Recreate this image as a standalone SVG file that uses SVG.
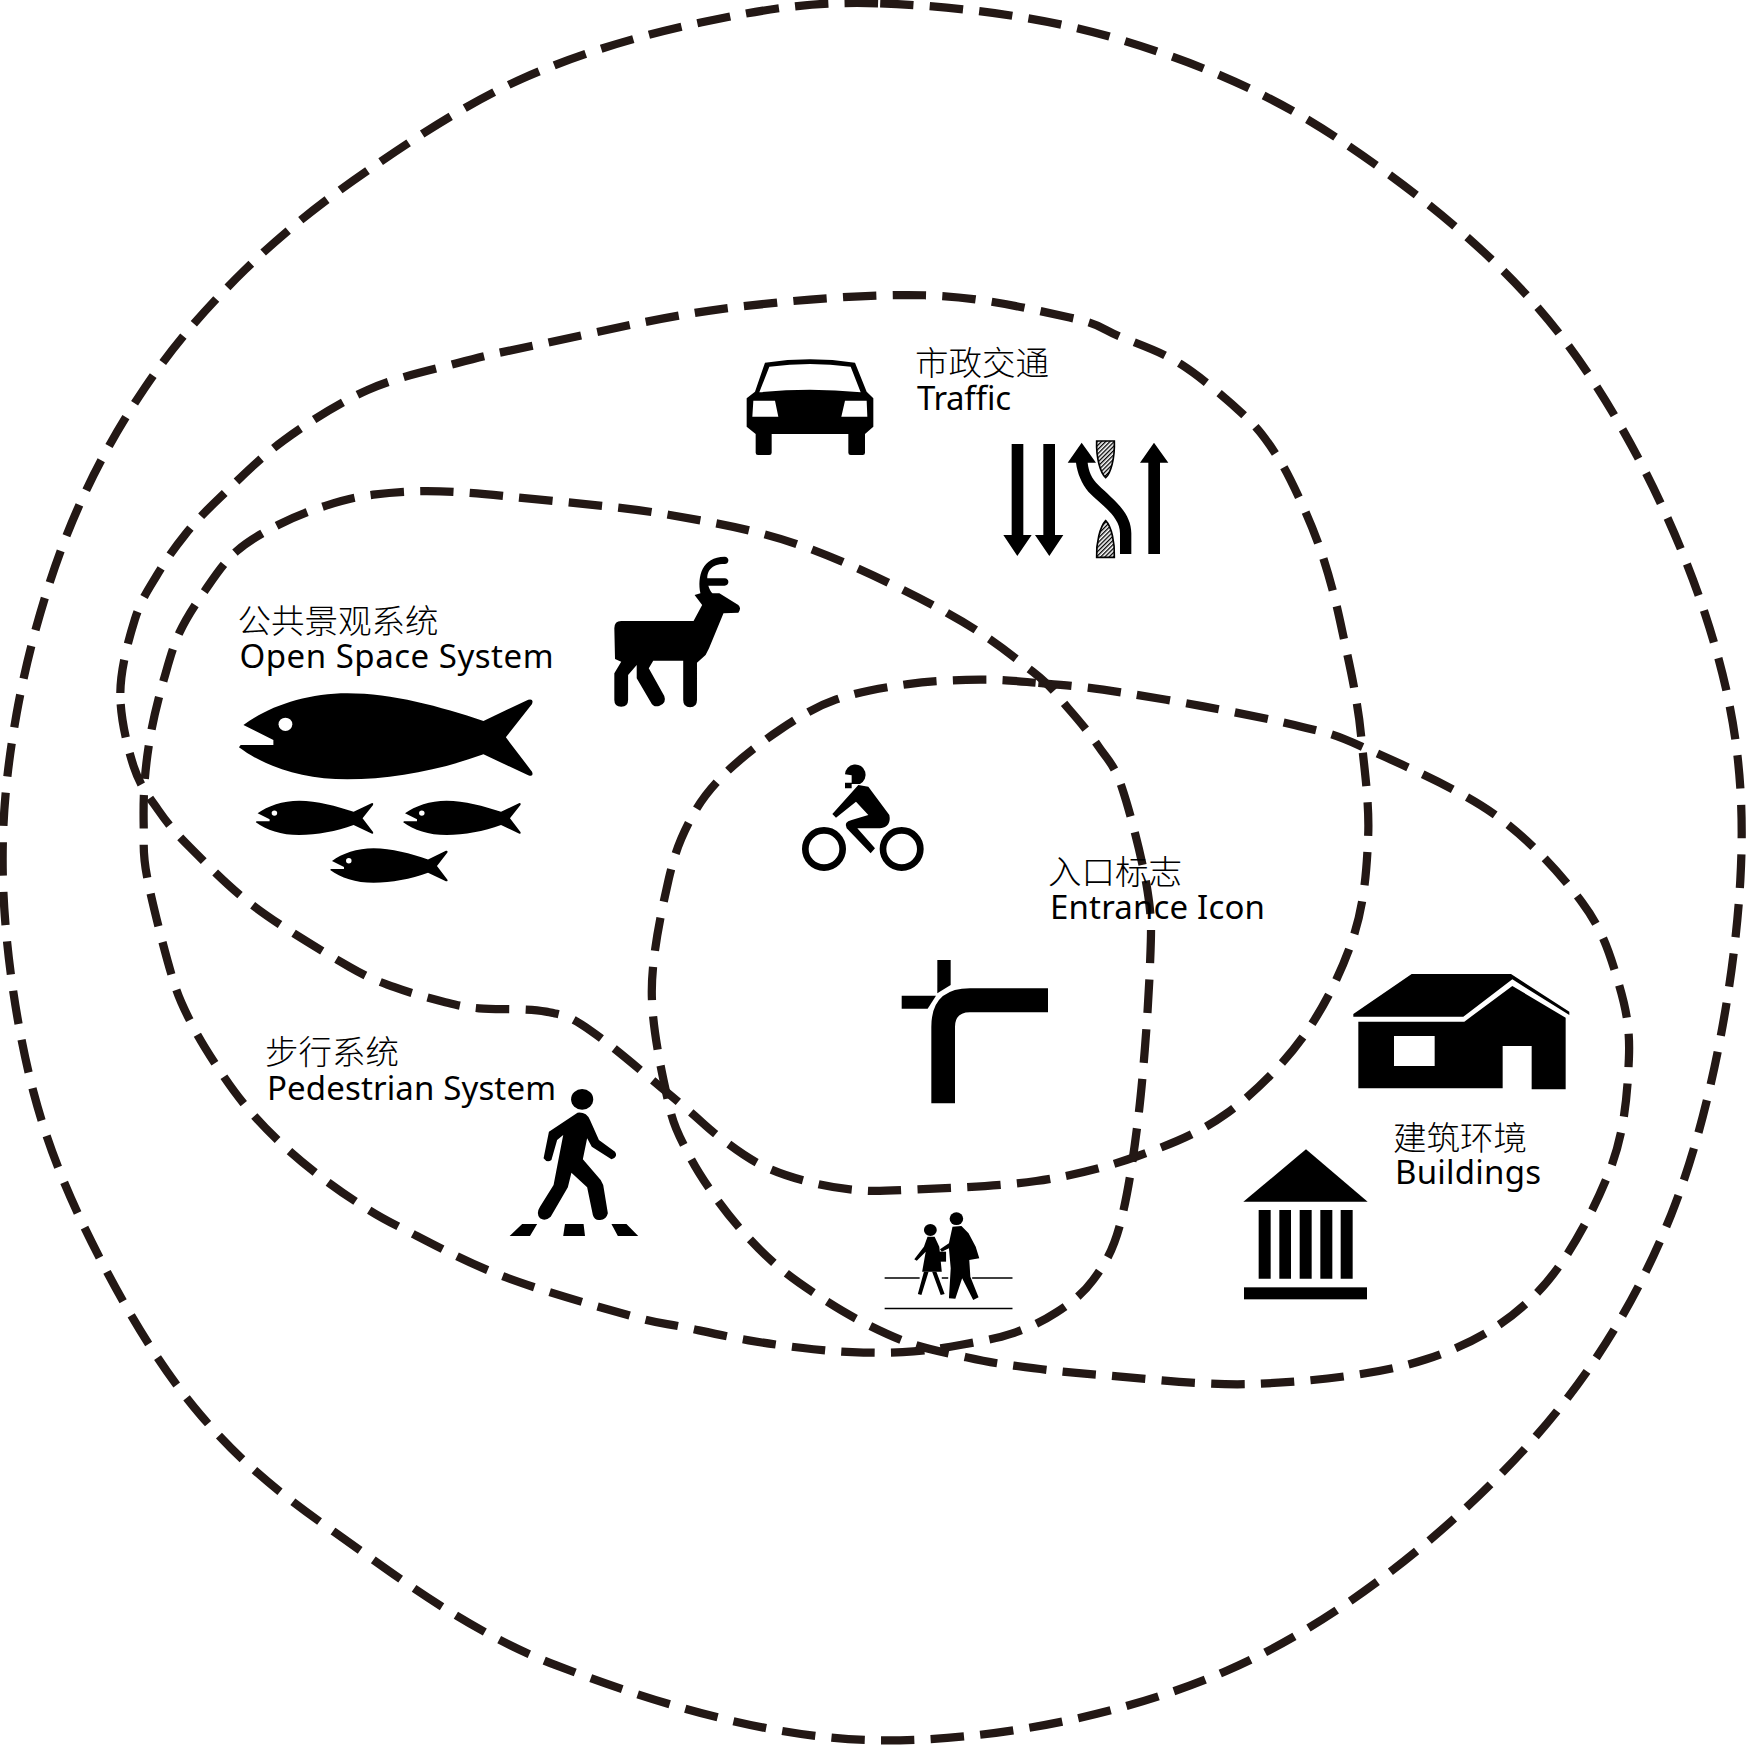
<svg xmlns="http://www.w3.org/2000/svg" width="1747" height="1747" viewBox="0 0 1747 1747">
<style>
.loop{fill:none;stroke:#231815;stroke-width:7.4;stroke-dasharray:30 14.6}
.en{font-family:"Noto Sans","Open Sans","Liberation Sans",sans-serif;font-size:33px;fill:#000}
.cn{font-family:"Noto Sans CJK SC","Noto Sans",sans-serif;font-size:33.5px;font-weight:300;fill:#000}
.ic{fill:#000}
</style>
<defs>
<pattern id="hatch" width="9" height="9" patternUnits="userSpaceOnUse" patternTransform="rotate(-45)">
<rect width="9" height="9" fill="#fff"/><rect width="9" height="4" fill="#000"/>
</pattern>
<g id="fish">
<path d="M68 555C140 500 250 460 370 460C500 460 640 500 765 543L895 479Q912 475 906 492L830 592L906 695Q912 712 895 706L765 643C640 690 500 718 370 718C240 718 130 680 55 622L60 615L155 615L155 600Z"/>
<circle cx="190" cy="553" r="20" fill="#fff"/>
</g>
</defs>
<rect width="1747" height="1747" fill="#fff"/>
<g id="connectors" transform="scale(1.11416)">
<path id="outer-boundary" class="loop" d="M790 3C851.7 5.300 931.700 13.800 1000 34S1133.300 79.700 1200 124S1345 229 1400 300S1503 468.300 1530 550S1567 700 1562 790S1535.300 1001.700 1500 1090S1416.700 1251.700 1350 1320S1193.300 1459.700 1100 1500S890 1562.800 790 1562S581.700 1526.200 500 1495S353.300 1412.500 300 1375S215 1310.800 180 1270S115 1178.300 90 1130S44.500 1035 30 980S5.500 856.700 3 800S5.500 693.300 15 640S40.800 528.700 60 480S103.300 387.700 130 348S186.700 274.500 220 242S288.300 181.700 330 153S420 92.200 470 70S576.700 31.200 630 20S728.300 0.700 790 3Z"/>
<path id="traffic-open-space-loop" class="loop" d="M108 622C108.200 600 115.500 573.700 121 556S133.500 528.700 141 516S156.700 491.500 166 480S182.200 461.200 197 447S232.800 411.200 255 395S304.200 361.500 330 350S385 332.700 410 326S440 318.200 480 310S591.700 284.500 650 277S778.300 263.700 830 265S930.800 278.800 960 285S988.300 295 1005 302S1041.200 315 1060 327S1103.700 360.300 1118 374S1137.800 396.500 1146 409S1160.700 435.500 1167 449S1179 476 1184 490S1193.200 518.500 1197 533S1203.800 562.300 1207 577S1213.500 606.500 1216 621S1220 642.500 1222 664S1229.200 720.700 1228 750S1224.700 810 1215 840S1189.200 903.300 1170 930S1125 982 1100 1000S1048.300 1028 1020 1038S964.500 1055 930 1060S840 1066.700 813 1068S783 1069.300 768 1068S737.300 1063.800 723 1060S695 1051.700 682 1045S657 1029.200 645 1020S629.200 1005.800 610 990S550 938.700 530 925S506.700 911.300 490 908S445.300 906.500 430 905S410.700 902.200 398 899S368 891.200 354 886S334.700 879.800 314 868S253.800 832.800 230 815S185.700 775.700 171 761S150.500 739.200 142 727S125.700 705.500 120 688S107.800 644 108 622Z"/>
<path id="open-space-pedestrian-loop" class="loop" d="M130 699C131.200 684.300 133.200 669.800 136 655S142.800 624.500 147 610S154.800 581.300 161 568S175.500 542.200 184 530S201 504.800 212 495S236.700 477.800 250 471S277.800 458.500 292 454S317.800 446.200 335 444S370.800 440.300 395 441S445.800 444.500 480 448S560 455 600 462S678.300 475.300 720 490S815.500 531.200 850 550S908.800 588.700 927 603S949.200 624.800 959 636S978 658.200 986 670S999.700 685.300 1007 707S1025.800 772.800 1030 800S1033.300 836.700 1032 870S1026.500 961.700 1022 1000S1011.800 1075.200 1005 1100S990.500 1136 981 1149S960.200 1170 948 1178S922.200 1192.200 908 1197S877.700 1204.300 863 1207S834.700 1211.800 820 1213S790 1214.300 775 1214S747.200 1212.800 730 1211S691.500 1206.300 672 1203S630.700 1194.700 613 1191S593.200 1188.700 566 1181S484.300 1158.200 450 1145S381.500 1112.900 360 1102S333.500 1087.500 321 1079.500S296.700 1063.100 285 1054S261.800 1035.300 251 1025S229.500 1003.500 220 992S202.200 968.500 194 956S177.700 930.500 171 917S160.500 896.700 154 875S136.200 809 132 787S129.300 757.700 129 743S128.800 713.700 130 699Z"/>
<path id="buildings-entrance-loop" class="loop" d="M932 613C950.300 614.500 965.300 615.500 990 619S1050.500 628.500 1080 634S1143.300 646 1167 652S1193.200 657 1222 670S1307 706.700 1340 730S1401.300 785 1420 810S1445 856.700 1452 880S1463.200 921.700 1462 950S1458.700 1015 1445 1050S1407.500 1131.700 1380 1160S1321.700 1206.300 1280 1220S1178.800 1239.700 1130 1242S1024.500 1236.800 987 1234S925.800 1227.800 905 1225S876.500 1220.200 862 1217S832.500 1211 818 1206S788.700 1194 775 1187S748.300 1172 736 1164S712.200 1148.300 701 1139S679 1119 669 1108S649.700 1085.300 641 1073S623.800 1047.800 617 1034S605.300 1014 600 990S585 923.300 585 890S594.200 815.800 600 790S611.700 750.800 620 735S636.700 708.300 650 695S683.300 666.200 700 655S730.800 634.800 750 628S793.300 617 815 614S860.500 610.200 880 610S913.700 611.500 932 613Z"/>
</g>
<g id="node-traffic">
<text class="cn" x="915" y="375">市政交通</text>
<text class="en" x="917" y="410" textLength="94">Traffic</text>
<g id="icon-car" class="ic" transform="translate(720 330) scale(.33333)">
<path fill-rule="evenodd" d="M135 98Q270 78 405 98L440 185L460 205L460 290L435 312L435 368Q435 375 428 375L392 375Q385 375 385 368L385 312L155 312L155 368Q155 375 148 375L114 375Q107 375 107 368L107 312L80 290L80 205L105 185ZM148 110L118 187Q270 172 422 187L392 110Q270 94 148 110ZM100 212L97 260L175 260L165 212ZM375 212L364 260L442 260L440 212Z"/>
</g>
<g id="icon-lanes" class="ic" transform="translate(720 330) scale(.33333)">
<path d="M875 342H910V615H935L892 678L850 615H875Z"/>
<path d="M970 342H1005V615H1030L988 678L945 615H970Z"/>
<path d="M1285 672V398H1260L1302 338L1345 398H1320V672Z"/>
<path d="M1043 398L1085 338L1128 398L1103 398C1106 425 1115 445 1135 465C1175 505 1234 545 1234 610V672H1200V610C1200 560 1145 525 1105 485C1085 460 1072 430 1068 398Z"/>
<path fill="url(#hatch)" stroke="#000" stroke-width="5" d="M1130 333H1183C1185 385 1172 430 1157 443C1142 430 1128 385 1130 333Z"/>
<path fill="url(#hatch)" stroke="#000" stroke-width="5" d="M1130 682H1183C1185 640 1175 590 1157 572C1140 590 1128 640 1130 682Z"/>
</g>
</g>
<g id="node-open-space">
<text class="cn" x="237.500" y="633">公共景观系统</text>
<text class="en" x="239.500" y="668" textLength="314">Open Space System</text>
<g id="icon-fishes" class="ic" transform="translate(220 540) scale(.34439 .33333)">
<use href="#fish"/>
<use href="#fish" transform="translate(82 598) scale(.4)"/>
<use href="#fish" transform="translate(510 598) scale(.4)"/>
<use href="#fish" transform="translate(298 741) scale(.4)"/>
</g>
<g id="icon-deer" class="ic" transform="translate(220 540) scale(.34439 .33333)">
<path d="M1165 243L1375 243L1400 195L1378 165L1395 160C1385 110 1400 50 1465 50C1480 50 1480 72 1465 72C1425 72 1415 95 1415 115L1465 115C1480 115 1480 137 1465 137L1418 137C1420 145 1425 155 1430 160L1450 160L1505 195Q1515 205 1505 218L1462 220L1420 325L1410 345L1385 368L1385 480Q1385 502 1365 502Q1345 502 1345 480L1345 362L1258 362L1245 385L1290 468Q1298 490 1275 498Q1258 503 1250 485L1210 415L1210 375L1185 405L1185 480Q1185 500 1165 500Q1145 500 1145 480L1145 400L1165 365L1147 357L1145 265Q1145 243 1165 243Z"/>
</g>
</g>
<g id="node-entrance">
<text class="cn" x="1048" y="884">入口标志</text>
<text class="en" x="1050" y="919" textLength="215">Entrance Icon</text>
<g id="icon-motorbike" class="ic" transform="translate(780 740) scale(.33333)">
<circle cx="132" cy="327" r="56" fill="none" stroke="#000" stroke-width="20"/>
<circle cx="365" cy="327" r="56" fill="none" stroke="#000" stroke-width="20"/>
<path d="M195 103A31 31 0 1 1 240 132L215 132V145H195V128H215V106Z"/>
<path d="M235 135L265 140L328 225Q335 260 300 265L232 265L285 325L272 340L200 265Q190 245 215 240L265 225L228 185L168 233L157 222Z"/>
</g>
<g id="icon-turn" class="ic" transform="translate(780 740) scale(.33333)">
<path d="M454 1090V860Q454 745 570 745H804V817H570Q525 817 525 860V1090Z"/>
<path d="M472 660H512V735L472 760Z"/>
<path d="M365 767H468L443 806H365Z"/>
</g>
</g>
<g id="node-buildings">
<text class="cn" x="1393" y="1150">建筑环境</text>
<text class="en" x="1395" y="1184" textLength="146">Buildings</text>
<g id="icon-house" class="ic" transform="translate(1220 950) scale(.33333)">
<path d="M575 72H873L1048 185V195L877 88L730 200H400V192Z"/>
<path fill-rule="evenodd" d="M415 215H733L877 108L1037 203V418H935V288H848V415H415ZM522 258V348H644V258Z"/>
</g>
<g id="icon-temple" class="ic" transform="translate(1220 950) scale(.33333)">
<path d="M258 598L443 755H70Z"/>
<path d="M116 780H152V986H116ZM178 780H213V986H178ZM239 780H275V986H239ZM301 780H337V986H301ZM362 780H398V986H362Z"/>
<rect x="72" y="1012" width="369" height="36"/>
</g>
</g>
<g id="node-pedestrian">
<text class="cn" x="265" y="1064">步行系统</text>
<text class="en" x="267" y="1100" textLength="289">Pedestrian System</text>
<g id="icon-walker" class="ic" transform="translate(490 1070) scale(.35714 .33333)">
<circle cx="258" cy="88" r="31"/>
<path d="M245 128Q270 125 280 150L305 210L350 245Q360 260 340 268L285 230L272 205L260 268L310 330L317 345L330 430Q325 452 305 450Q292 450 288 435L272 352L228 308L218 352L170 440Q155 455 140 445Q128 430 140 410L178 345L205 195L188 210L172 270Q160 280 150 265L165 185Z"/>
<path d="M90 462H132L112 498H55ZM210 462H262L266 498H205ZM340 462H382L415 498H358Z"/>
</g>
<g id="icon-crossing" class="ic" transform="translate(490 1070) scale(.35714 .33333)">
<path d="M1105 622H1203V626H1105ZM1265 622H1283V626H1265ZM1350 622H1463V626H1350ZM1105 713H1463V718H1105Z"/>
<circle cx="1233" cy="480" r="18"/>
<path d="M1225 500L1245 500L1258 530L1265 605L1210 605L1220 545L1195 572L1188 568L1215 530Z"/>
<path d="M1215 605L1228 605L1208 675L1198 672ZM1238 605L1250 605L1273 672L1262 675Z"/>
<path d="M1250 545H1277V575H1250Z"/>
<circle cx="1306" cy="446" r="19"/>
<path d="M1295 470L1320 468L1340 490L1360 530L1370 565L1342 570L1345 620L1368 682L1353 690L1322 625L1303 686L1285 685L1290 595L1285 535L1265 545L1260 538L1285 520Z"/>
</g>
</g>
</svg>
